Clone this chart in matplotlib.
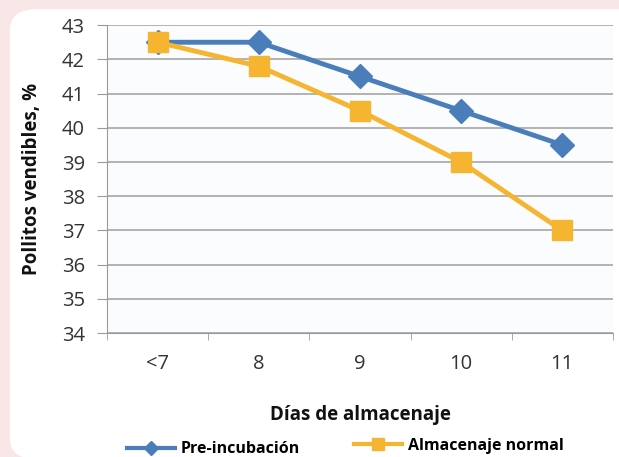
import numpy as np
import matplotlib.pyplot as plt
from matplotlib.patches import FancyBboxPatch
from matplotlib.lines import Line2D

# storage days and saleable chicks (%)
dias = ['<7', '8', '9', '10', '11']
pre_incubacion = [42.5, 42.5, 41.5, 40.5, 39.5]
almacenaje_normal = [42.5, 41.8, 40.5, 39.0, 37.0]

azul = '#4a7ebb'
naranja = '#f5b531'

plt.rcParams['font.family'] = ['Open Sans', 'DejaVu Sans']

fig = plt.figure(figsize=(6.19, 4.57), dpi=100)
fig.patch.set_facecolor('#f9e6e6')

# white rounded panel behind the chart
panel = FancyBboxPatch((0.016, -0.005), 1.1, 0.985, boxstyle='round,pad=0,rounding_size=0.045',
                       transform=fig.transFigure, facecolor='white', edgecolor='none', zorder=-1)
fig.patches.append(panel)

ax = fig.add_axes([0.173, 0.271, 0.817, 0.674])
ax.set_zorder(1)
ax.set_facecolor('#fafcfe')

x = np.arange(len(dias))
ax.plot(x, pre_incubacion, color=azul, lw=3.5, marker='D', ms=12, mec=azul, zorder=3)
ax.plot(x, almacenaje_normal, color=naranja, lw=3.5, marker='s', ms=15, mec=naranja, zorder=4)

ax.set_xlim(-0.5, len(dias) - 0.5)
ax.set_ylim(34, 43)
ax.set_yticks(range(34, 44))
ax.set_xticks(x)
ax.set_xticklabels(dias)
ax.set_xticks(np.arange(-0.5, len(dias), 1), minor=True)
ax.grid(axis='y', color='#a6a6a6', lw=1.2)
ax.set_axisbelow(True)

for s in ['top', 'right']:
    ax.spines[s].set_visible(False)
ax.spines['left'].set_color('#9a9a9a')
ax.spines['bottom'].set_color('#9a9a9a')
ax.tick_params(axis='y', length=7, color='#9a9a9a', labelsize=14.5, labelcolor='#333333', pad=9)
ax.tick_params(axis='x', which='major', length=0, labelsize=14.5, labelcolor='#333333', pad=15)
ax.tick_params(axis='x', which='minor', length=5, color='#9a9a9a')

ax.set_ylabel('Pollitos vendibles, %', fontsize=13.5, fontweight='bold', color='#111111', labelpad=14)
ax.set_xlabel('Días de almacenaje', fontsize=13.5, fontweight='bold', color='#111111', labelpad=22)

# two legend entries, placed separately below the axis title
entradas = [
    (Line2D([], [], color=azul, lw=3, marker='D', ms=7), 'Pre-incubación', (0.205, 0.017)),
    (Line2D([], [], color=naranja, lw=3, marker='s', ms=8), 'Almacenaje normal', (0.572, 0.025)),
]
for h, lab, pos in entradas:
    fig.legend([h], [lab], loc='center left', bbox_to_anchor=pos, frameon=False,
               handlelength=3.0, handletextpad=0.35, borderpad=0, borderaxespad=0,
               prop={'weight': 'bold', 'size': 11.5})

fig.savefig('out.png', dpi=100, facecolor=fig.get_facecolor())
